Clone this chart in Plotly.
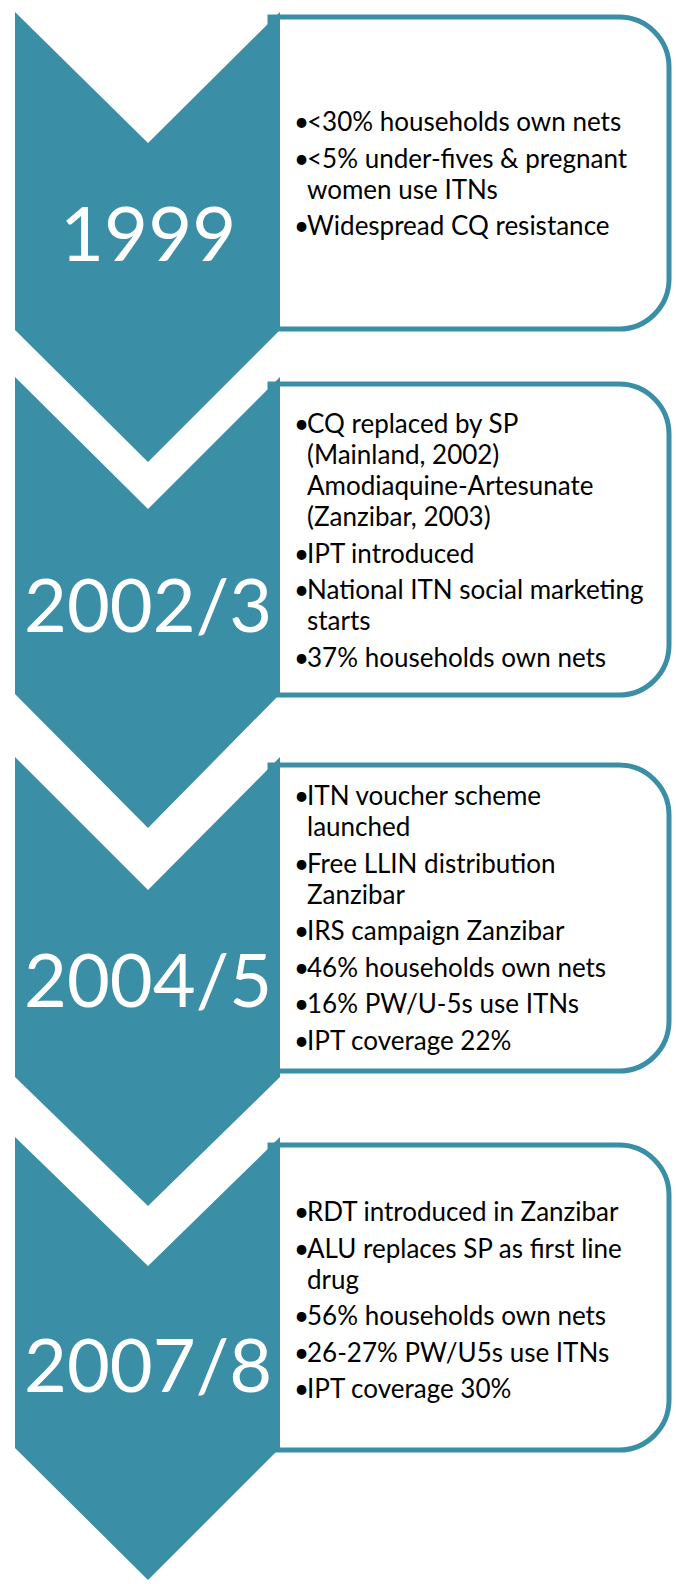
import plotly.graph_objects as go

# ---------------- data ----------------
periods = ["1999", "2002/3", "2004/5", "2007/8"]

items_1999 = [
    ["<30% households own nets"],
    ["<5% under-fives & pregnant", "women use ITNs"],
    ["Widespread CQ resistance"],
]
items_2002 = [
    ["CQ replaced by SP", "(Mainland, 2002)", "Amodiaquine-Artesunate", "(Zanzibar, 2003)"],
    ["IPT introduced"],
    ["National ITN social marketing", "starts"],
    ["37% households own nets"],
]
items_2004 = [
    ["ITN voucher scheme", "launched"],
    ["Free LLIN distribution", "Zanzibar"],
    ["IRS campaign Zanzibar"],
    ["46% households own nets"],
    ["16% PW/U-5s use ITNs"],
    ["IPT coverage 22%"],
]
items_2007 = [
    ["RDT introduced in Zanzibar"],
    ["ALU replaces SP as first line", "drug"],
    ["56% households own nets"],
    ["26-27% PW/U5s use ITNs"],
    ["IPT coverage 30%"],
]
period_items = [items_1999, items_2002, items_2004, items_2007]

# ---------------- layout geometry (pixels) ----------------
W, H = 676, 1584
TEAL = "#3A8FA6"
CH_LEFT, CH_RIGHT, CH_MID = 15, 280, 148
# chevrons: (top, notch apex, body bottom, tip)
chevrons = [(12, 143, 330, 462), (377, 509, 694, 828),
            (757, 890, 1077, 1206), (1137, 1266, 1448, 1580)]
# boxes: (top, bottom) stroke centres
boxes = [(17, 329), (384, 695), (765, 1071), (1145, 1450)]
BOX_LEFT, BOX_RIGHT, RADIUS = 270, 669, 50
year_y = [231, 603, 978, 1363]
year_size = [76, 74, 74, 74]
first_line_y = [121, 423, 795, 1211]
WRAP_GAP, BULLET_GAP = 31, 36.5
BULLET_X, TEXT_X = 292, 305
BODY_FONT = dict(family="Lato", size=26, color="black")

fig = go.Figure()
shapes = []
annotations = []

K = 0.5523
for (top, bot) in boxes:
    r = RADIUS
    xr = BOX_RIGHT
    path = (f"M {BOX_LEFT},{top} L {xr - r},{top} "
            f"C {xr - r + K*r},{top} {xr},{top + r - K*r} {xr},{top + r} "
            f"L {xr},{bot - r} "
            f"C {xr},{bot - r + K*r} {xr - r + K*r},{bot} {xr - r},{bot} "
            f"L {BOX_LEFT},{bot} Z")
    shapes.append(dict(type="path", path=path, xref="x", yref="y",
                       fillcolor="white", line=dict(color=TEAL, width=5),
                       layer="above"))

for (top, apex, bot, tip) in chevrons:
    path = (f"M {CH_LEFT},{top} L {CH_MID},{apex} L {CH_RIGHT},{top} "
            f"L {CH_RIGHT},{bot} L {CH_MID},{tip} L {CH_LEFT},{bot} Z")
    shapes.append(dict(type="path", path=path, xref="x", yref="y",
                       fillcolor=TEAL, line=dict(width=0), layer="above"))

for label, yy, fs in zip(periods, year_y, year_size):
    annotations.append(dict(x=CH_MID, y=yy, xref="x", yref="y", text=label,
                            showarrow=False, xanchor="center", yanchor="middle",
                            font=dict(family="Lato", size=fs, color="white")))

for items, y0 in zip(period_items, first_line_y):
    y = y0
    for i, item in enumerate(items):
        if i > 0:
            y += BULLET_GAP
        for j, line in enumerate(item):
            if j > 0:
                y += WRAP_GAP
            else:
                annotations.append(dict(x=BULLET_X, y=y, xref="x", yref="y",
                                        text="•", showarrow=False,
                                        xanchor="left", yanchor="middle",
                                        font=BODY_FONT))
            annotations.append(dict(x=TEXT_X, y=y, xref="x", yref="y",
                                    text=line, showarrow=False,
                                    xanchor="left", yanchor="middle",
                                    font=BODY_FONT))

fig.update_layout(
    width=W, height=H,
    margin=dict(l=0, r=0, t=0, b=0),
    paper_bgcolor="white", plot_bgcolor="white",
    xaxis=dict(range=[0, W], visible=False, fixedrange=True),
    yaxis=dict(range=[H, 0], visible=False, fixedrange=True),
    shapes=shapes, annotations=annotations, showlegend=False,
)
fig.write_html("out.html", config={"displayModeBar": False},
               post_script="document.body.style.margin='0px';"
                           "document.body.style.overflow='hidden';")
